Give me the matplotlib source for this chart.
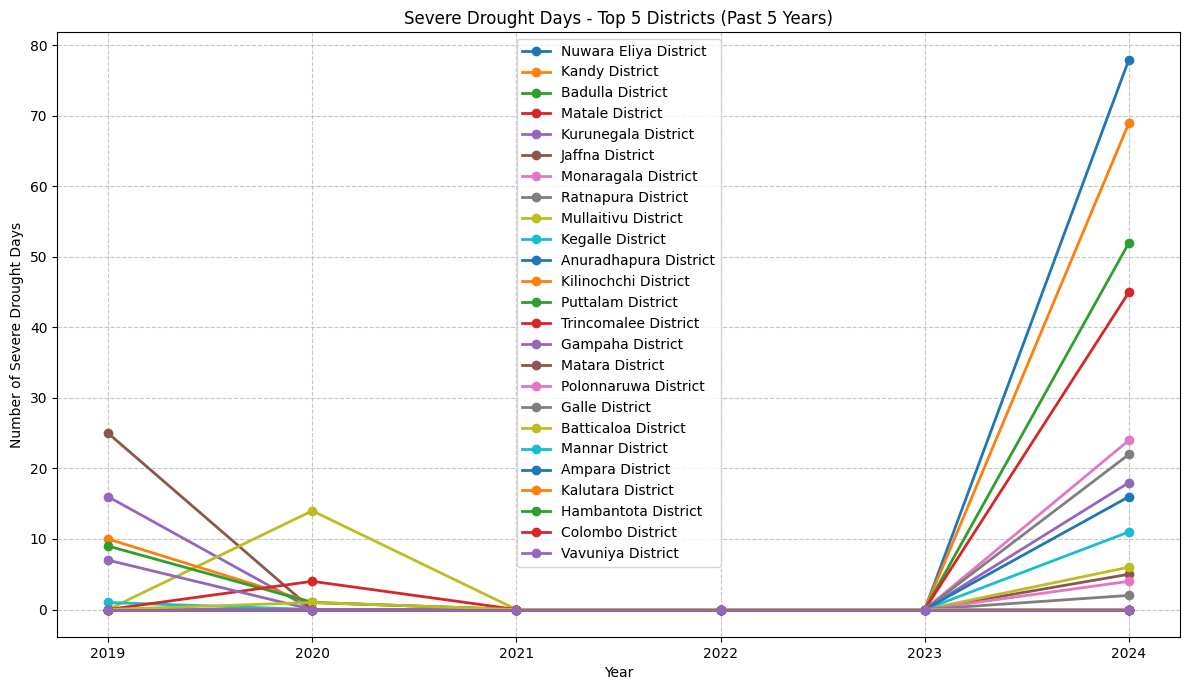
import matplotlib
matplotlib.use("Agg")
import matplotlib.pyplot as plt

# years on the x axis
years = [2019, 2020, 2021, 2022, 2023, 2024]

# districts in legend order
districts = [
    "Nuwara Eliya", "Kandy", "Badulla", "Matale", "Kurunegala",
    "Jaffna", "Monaragala", "Ratnapura", "Mullaitivu", "Kegalle",
    "Anuradhapura", "Kilinochchi", "Puttalam", "Trincomalee", "Gampaha",
    "Matara", "Polonnaruwa", "Galle", "Batticaloa", "Mannar",
    "Ampara", "Kalutara", "Hambantota", "Colombo", "Vavuniya",
]

# severe drought days per year, one list per district
nuwara_eliya = [0, 0, 0, 0, 0, 78]
kandy = [0, 0, 0, 0, 0, 69]
badulla = [0, 0, 0, 0, 0, 52]
matale = [0, 0, 0, 0, 0, 45]
kurunegala = [16, 0, 0, 0, 0, 18]
jaffna = [25, 0, 0, 0, 0, 5]
monaragala = [0, 0, 0, 0, 0, 24]
ratnapura = [0, 0, 0, 0, 0, 22]
mullaitivu = [0, 14, 0, 0, 0, 6]
kegalle = [1, 0, 0, 0, 0, 11]
anuradhapura = [0, 0, 0, 0, 0, 16]
kilinochchi = [10, 1, 0, 0, 0, 0]
puttalam = [9, 1, 0, 0, 0, 0]
trincomalee = [0, 4, 0, 0, 0, 0]
gampaha = [7, 0, 0, 0, 0, 0]
matara = [0, 0, 0, 0, 0, 0]
polonnaruwa = [0, 0, 0, 0, 0, 4]
galle = [0, 0, 0, 0, 0, 2]
batticaloa = [0, 1, 0, 0, 0, 0]
mannar = [0, 0, 0, 0, 0, 0]
ampara = [0, 0, 0, 0, 0, 0]
kalutara = [0, 0, 0, 0, 0, 0]
hambantota = [0, 0, 0, 0, 0, 0]
colombo = [0, 0, 0, 0, 0, 0]
vavuniya = [0, 0, 0, 0, 0, 0]

series = [
    nuwara_eliya, kandy, badulla, matale, kurunegala,
    jaffna, monaragala, ratnapura, mullaitivu, kegalle,
    anuradhapura, kilinochchi, puttalam, trincomalee, gampaha,
    matara, polonnaruwa, galle, batticaloa, mannar,
    ampara, kalutara, hambantota, colombo, vavuniya,
]

plt.figure(figsize=(11.89, 6.9), dpi=100)

for name, values in zip(districts, series):
    plt.plot(years, values, marker='o', linewidth=2, label=f"{name} District")

plt.title("Severe Drought Days - Top 5 Districts (Past 5 Years)")
plt.xlabel("Year")
plt.ylabel("Number of Severe Drought Days")
plt.xticks(years)
plt.grid(True, linestyle='--', alpha=0.7)
plt.legend(loc='upper center')

# match the reference margins
plt.subplots_adjust(left=0.048, right=0.9924, top=0.9536, bottom=0.0768)
plt.savefig("out.png", dpi=100)
plt.close()
